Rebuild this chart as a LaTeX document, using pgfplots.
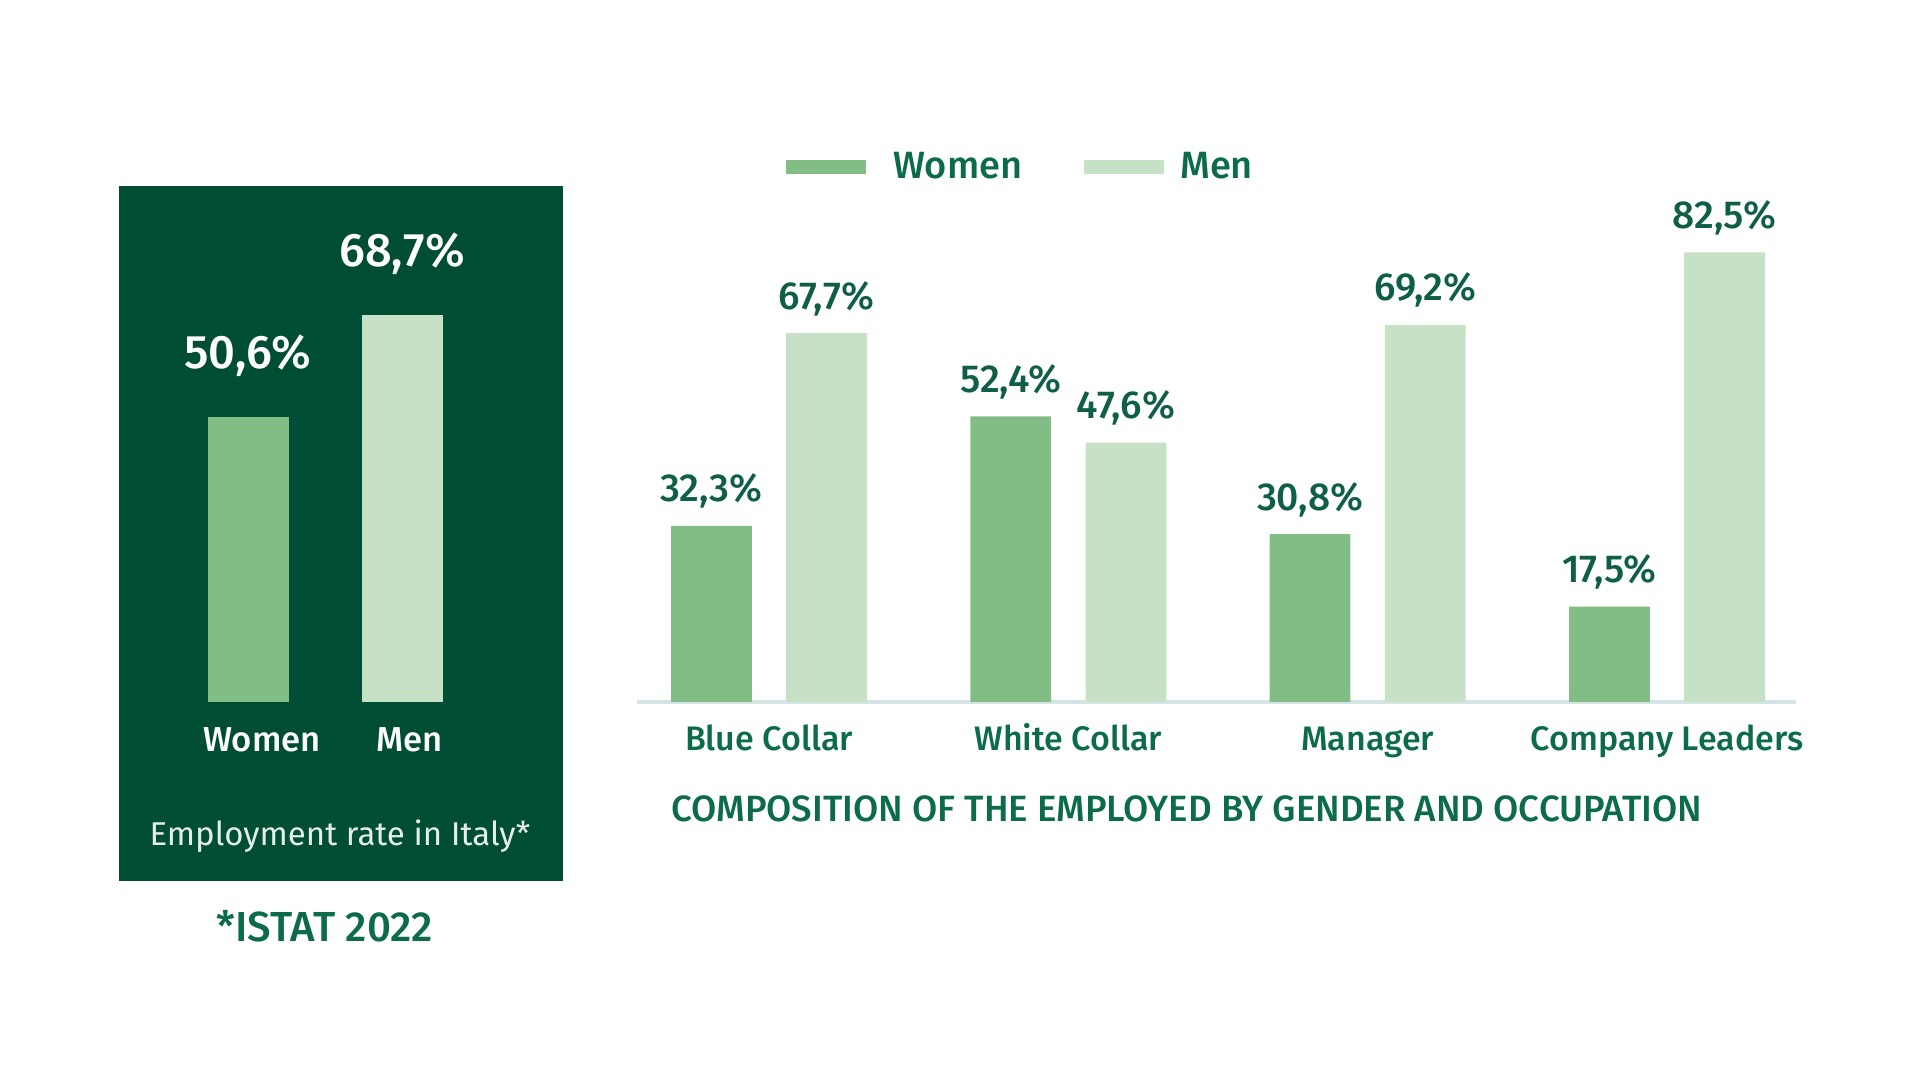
\documentclass[border=0pt]{standalone}
\usepackage{fontspec}
\setmainfont{Fira Sans}
\newfontfamily\fmed{Fira Sans Medium}
\usepackage{pgfplots}
\pgfplotsset{compat=1.18}
\definecolor{panel}{HTML}{004D35}
\definecolor{wgreen}{HTML}{82BD86}
\definecolor{mgreen}{HTML}{C7E1C7}
\definecolor{tgreen}{HTML}{0B6B4B}
\definecolor{vgreen}{HTML}{0E5E48}
\definecolor{axgray}{HTML}{D5E4E4}
\newcommand{\fs}[1]{\fontsize{#1}{#1}\selectfont}
\begin{document}
\begin{tikzpicture}
\useasboundingbox (0,0) rectangle (960pt,540pt);
% ---------------- left panel ----------------
\begin{axis}[at={(59.5pt,100pt)}, anchor=south west, scale only axis,
  width=221.5pt, height=347pt,
  xmin=-0.838, xmax=2.039, ymin=-31.6, ymax=91.65,
  axis background/.style={fill=panel}, axis line style={draw=panel},
  xtick=\empty, ytick=\empty, clip=false,
  /pgf/number format/assume math mode=true,
  ybar, bar width=40.5pt,
  nodes near coords={\pgfmathprintnumber[fixed,fixed zerofill,precision=1,use comma,assume math mode=true]{\pgfplotspointmeta}\%},
  every node near coord/.append style={font=\fmed\fs{23.5}, text=white, anchor=base, yshift=24.5pt}]
\addplot[fill=wgreen, draw=none, bar shift=0pt] coordinates {(0,50.6)};
\addplot[fill=mgreen, draw=none, bar shift=0pt] coordinates {(1,68.7)};
\node[font=\fmed\fs{17.3}, text=white] at (axis cs:0.09,-6.75) {Women};
\node[font=\fmed\fs{17.3}, text=white] at (axis cs:1.05,-6.75) {Men};
\node[font=\fs{16.5}, text=white!90!panel] at (axis cs:0.597,-23.8) {Employment rate in Italy*};
\node[font=\fmed\fs{21}, text=tgreen] at (axis cs:0.5,-39.8) {*ISTAT 2022};
\end{axis}
% ---------------- right chart ----------------
\begin{axis}[at={(318.5pt,189pt)}, anchor=south west, scale only axis,
  width=579.5pt, height=272.5pt,
  xmin=-0.441, xmax=3.431, ymin=0, ymax=100,
  axis x line*=bottom, axis y line=none,
  x axis line style={draw=axgray, line width=1.75pt},
  xtick={0,1,2,3}, xticklabels={Blue Collar, White Collar, Manager, Company Leaders},
  major tick length=0pt,
  xticklabel style={font=\fmed\fs{17}, text=tgreen, anchor=base, yshift=-24.5pt},
  ytick=\empty, clip=false,
  /pgf/number format/assume math mode=true,
  ybar, bar width=40.4pt,
  nodes near coords={\pgfmathprintnumber[fixed,fixed zerofill,precision=1,use comma,assume math mode=true]{\pgfplotspointmeta}\%},
  every node near coord/.append style={font=\fmed\fs{19.5}, text=vgreen, anchor=base, yshift=12pt},
  legend style={at={(0.1286,0.982)}, anchor=west, draw=none, fill=none, inner sep=0pt,
    font=\fmed\fs{19}, text=tgreen, /tikz/every even column/.append style={column sep=29pt}},
  legend columns=-1]
\addplot[fill=wgreen, draw=none, bar shift=-28.8pt,
  legend image code/.code={\fill[wgreen] (0pt,-3.5pt) rectangle (40pt,3.5pt);\path (51.5pt,0pt);}]
  coordinates {(0,32.3) (1,52.4) (2,30.8) (3,17.5)};
\addplot[fill=mgreen, draw=none, bar shift=28.8pt,
  legend image code/.code={\fill[mgreen] (0pt,-3.5pt) rectangle (40pt,3.5pt);\path (46pt,0pt);}]
  coordinates {(0,67.7) (1,47.6) (2,69.2) (3,82.5)};
\legend{Women, Men}
\node[font=\fmed\fs{18.3}, text=tgreen, anchor=west, inner sep=0pt] at (rel axis cs:0.0293,-0.196)
  {COMPOSITION OF THE EMPLOYED BY GENDER AND OCCUPATION};
\end{axis}
\end{tikzpicture}
\end{document}
